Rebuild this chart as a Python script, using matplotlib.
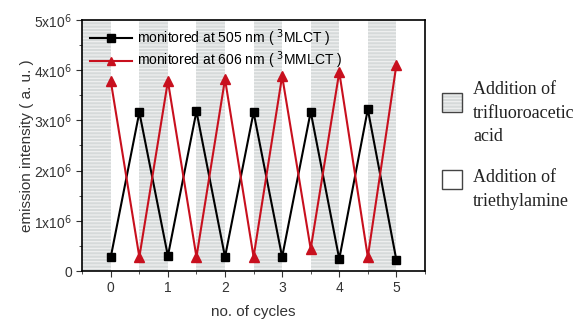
import matplotlib
matplotlib.use("Agg")
import matplotlib.pyplot as plt
from matplotlib.patches import Rectangle
from matplotlib.ticker import MultipleLocator, FixedLocator

cycles = [0, 0.5, 1, 1.5, 2, 2.5, 3, 3.5, 4, 4.5, 5]
mlct_505 = [0.28e6, 3.16e6, 0.30e6, 3.18e6, 0.28e6, 3.16e6, 0.28e6, 3.17e6, 0.24e6, 3.22e6, 0.22e6]
mmlct_606 = [3.78e6, 0.28e6, 3.78e6, 0.28e6, 3.82e6, 0.28e6, 3.88e6, 0.44e6, 3.96e6, 0.28e6, 4.10e6]
acid_bands = [(-0.5, 0), (0.5, 1), (1.5, 2), (2.5, 3), (3.5, 4), (4.5, 5)]
ytick_labels = ["0", r"1x10$^6$", r"2x10$^6$", r"3x10$^6$", r"4x10$^6$", r"5x10$^6$"]

plt.rcParams["font.family"] = ["Liberation Sans", "DejaVu Sans"]
plt.rcParams["hatch.linewidth"] = 0.8

fig = plt.figure(figsize=(5.75, 3.2), dpi=100)
ax = fig.add_axes([0.143, 0.153, 0.596, 0.785])

band_color = "#d6dada"
stripe_color = "#f2f2f2"
for x0, x1 in acid_bands:
    ax.axvspan(x0, x1, facecolor=band_color, hatch="-----", edgecolor=stripe_color, linewidth=0, zorder=0)

ax.plot(cycles, mlct_505, color="black", marker="s", markersize=6, linewidth=1.5,
        label=r"monitored at 505 nm ( $^3$MLCT )", zorder=3)
ax.plot(cycles, mmlct_606, color="#c8101e", marker="^", markersize=7, linewidth=1.5,
        label=r"monitored at 606 nm ( $^3$MMLCT )", zorder=3)

ax.set_xlim(-0.5, 5.5)
ax.set_ylim(0, 5e6)
ax.xaxis.set_major_locator(MultipleLocator(1))
ax.xaxis.set_minor_locator(MultipleLocator(0.5))
ax.yaxis.set_major_locator(FixedLocator([0, 1e6, 2e6, 3e6, 4e6, 5e6]))
ax.yaxis.set_minor_locator(MultipleLocator(0.5e6))
ax.set_yticklabels(ytick_labels)
ax.tick_params(which="both", direction="out", top=False, right=False, labelsize=10, colors="#333333")
ax.tick_params(which="major", length=4)
ax.tick_params(which="minor", length=2.5)
for s in ax.spines.values():
    s.set_linewidth(1.2)

ax.set_xlabel("no. of cycles", fontsize=11, color="#333333", labelpad=7)
ax.set_ylabel("emission intensity ( a. u. )", fontsize=11, color="#333333", labelpad=0)

ax.legend(loc="upper left", frameon=False, fontsize=10, handlelength=3.0,
          borderaxespad=0.15, handletextpad=0.4, labelspacing=0.05, markerscale=0.85)

# legend for the shaded regions, outside the axes
box_w, box_h = 20 / 575, 19 / 320
fig.patches.append(Rectangle((442 / 575, 1 - 112 / 320), box_w, box_h, transform=fig.transFigure,
                             facecolor=band_color, hatch="-----", edgecolor=stripe_color, linewidth=0))
fig.patches.append(Rectangle((442 / 575, 1 - 112 / 320), box_w, box_h, transform=fig.transFigure,
                             facecolor="none", edgecolor="#444444", linewidth=1))
fig.patches.append(Rectangle((442 / 575, 1 - 189 / 320), box_w, box_h, transform=fig.transFigure,
                             facecolor="white", edgecolor="#444444", linewidth=1))
fig.text(473 / 575, 1 - 81 / 320, "Addition of\ntrifluoroacetic\nacid", family="Liberation Serif",
         fontsize=13, va="top", ha="left", linespacing=1.5, color="#222222")
fig.text(473 / 575, 1 - 169 / 320, "Addition of\ntriethylamine", family="Liberation Serif",
         fontsize=13, va="top", ha="left", linespacing=1.5, color="#222222")

fig.savefig("out.png", dpi=100)
